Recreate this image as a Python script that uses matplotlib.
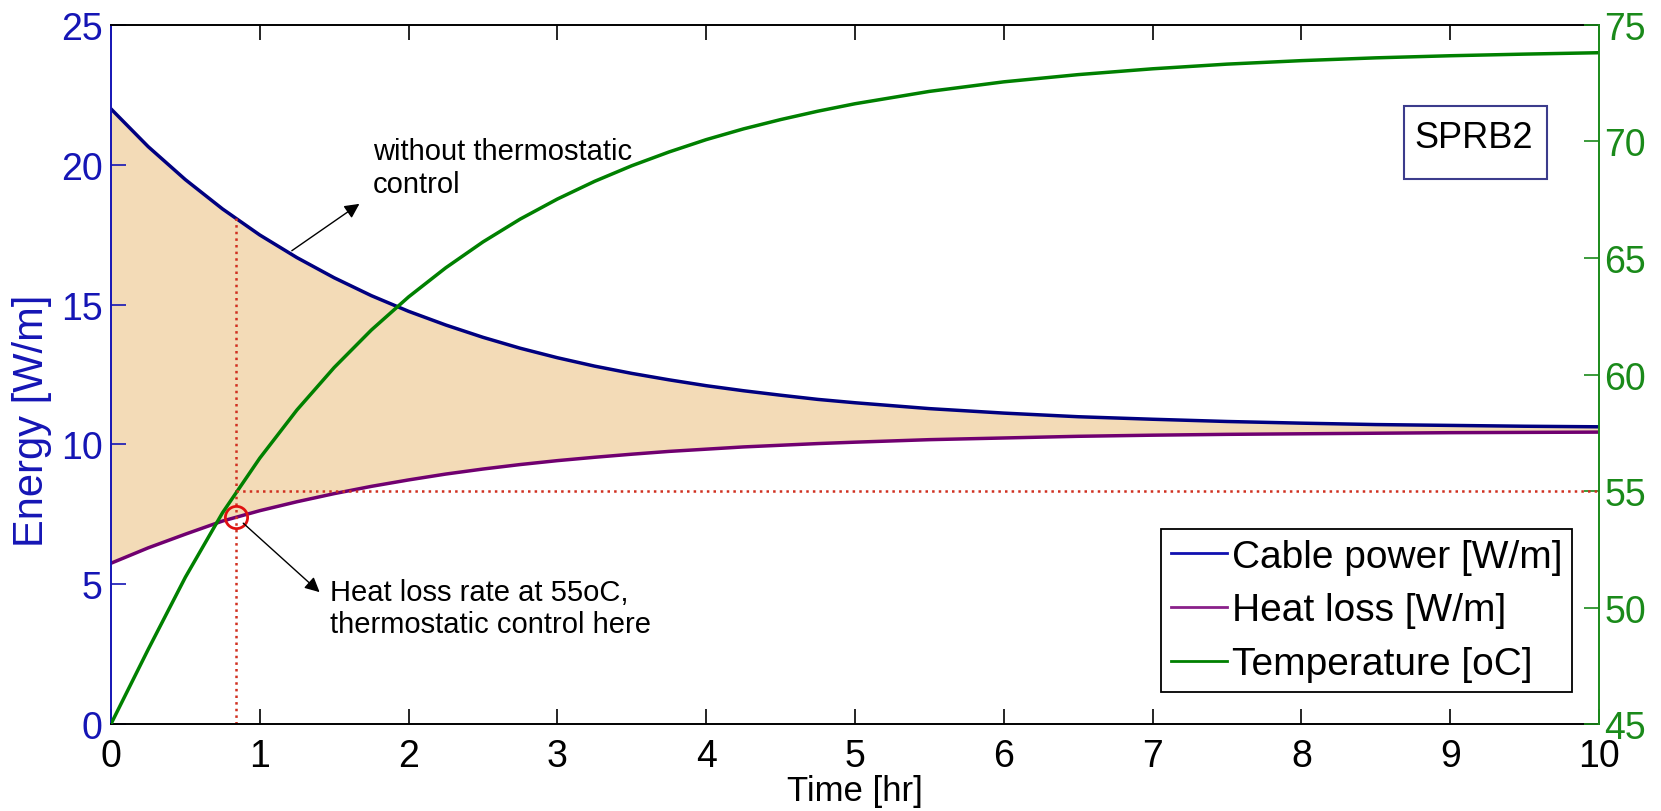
import numpy as np
import matplotlib
matplotlib.use('Agg')
import matplotlib.pyplot as plt
from matplotlib.lines import Line2D
from matplotlib.patches import Rectangle

plt.rcParams['font.family'] = ['Liberation Sans', 'DejaVu Sans']

# heating run of the SPRB2 cable
time_hr = [0, 0.25, 0.5, 0.75, 1, 1.25, 1.5, 1.75, 2, 2.25, 2.5, 2.75, 3, 3.25, 3.5, 3.75,
           4, 4.25, 4.5, 4.75, 5, 5.5, 6, 6.5, 7, 7.5, 8, 8.5, 9, 9.5, 10]
cable_power = [22.00, 20.65, 19.47, 18.42, 17.49, 16.68, 15.96, 15.32, 14.76, 14.27, 13.83,
               13.44, 13.10, 12.80, 12.54, 12.31, 12.10, 11.92, 11.76, 11.61, 11.49, 11.28,
               11.12, 10.99, 10.90, 10.82, 10.76, 10.71, 10.68, 10.65, 10.63]
heat_loss = [5.75, 6.30, 6.79, 7.26, 7.63, 7.95, 8.24, 8.50, 8.73, 8.94, 9.12, 9.28, 9.42,
             9.54, 9.65, 9.75, 9.83, 9.91, 9.97, 10.03, 10.08, 10.17, 10.23, 10.29, 10.33,
             10.36, 10.38, 10.40, 10.42, 10.43, 10.44]
temperature = [45.0, 48.2, 51.3, 54.07, 56.41, 58.48, 60.30, 61.91, 63.33, 64.58, 65.69,
               66.67, 67.53, 68.29, 68.96, 69.55, 70.08, 70.54, 70.94, 71.30, 71.62, 72.15,
               72.56, 72.87, 73.12, 73.32, 73.47, 73.59, 73.68, 73.75, 73.81]

t_set = 0.84      # time the cable reaches the thermostat set point
temp_set = 55

labels = ['Cable power [W/m]', 'Heat loss [W/m]', 'Temperature [oC]']

blue = '#000080'
purple = '#700070'
green = '#008000'
tick_blue = '#1515B5'
tick_green = '#1A8A1A'
dot_red = '#D03020'

loss_at_set = np.interp(t_set, time_hr, heat_loss)
power_at_set = np.interp(t_set, time_hr, cable_power)

fig = plt.figure(figsize=(16.61, 8.12), dpi=100)
ax1 = fig.add_axes([0.0668, 0.1071, 0.8959, 0.8609])

ax1.fill_between(time_hr, heat_loss, cable_power, color='#F3DBB7', lw=0)
ax1.plot(time_hr, cable_power, color=blue, lw=2.5)
ax1.plot(time_hr, heat_loss, color=purple, lw=2.5)
ax1.plot([t_set, t_set], [0, power_at_set], color=dot_red, ls=':', lw=1.8)
ax1.plot(t_set, loss_at_set, 'o', mfc='none', mec='#E01010', ms=16, mew=2)

ax1.set_xlim(0, 10)
ax1.set_ylim(0, 25)
ax1.set_xticks(range(0, 11))
ax1.set_yticks(range(0, 26, 5))
ax1.tick_params(axis='y', colors=tick_blue, direction='in', length=11, width=1.2,
                right=True, labelsize=27, pad=6)
ax1.tick_params(axis='x', colors='black', direction='in', length=11, width=1.2,
                top=True, labelsize=27, pad=10)
ax1.spines['left'].set_color(tick_blue)
ax1.spines['right'].set_visible(False)
for s in ['top', 'bottom']:
    ax1.spines[s].set_color('black')
    ax1.spines[s].set_linewidth(1.4)
ax1.spines['left'].set_linewidth(1.4)

ax1.set_xlabel('Time [hr]', fontsize=25, labelpad=0)
ax1.set_ylabel('Energy [W/m]', fontsize=30, color=tick_blue)
ax1.yaxis.set_label_coords(-0.0397, 0.435)

# annotations
ax1.annotate('', xy=(1.685, 18.66), xytext=(1.20, 16.87),
             arrowprops=dict(arrowstyle='-|>', color='black', lw=1, mutation_scale=22))
ax1.text(1.76, 19.9, 'without thermostatic\ncontrol', fontsize=21, va='center', ha='left')
ax1.annotate('', xy=(1.416, 4.65), xytext=(0.875, 7.25),
             arrowprops=dict(arrowstyle='-|>', color='black', lw=1, mutation_scale=22))
ax1.text(1.47, 4.15, 'Heat loss rate at 55oC,\nthermostatic control here', fontsize=21,
         va='center', ha='left')

# temperature on the right axis
ax2 = ax1.twinx()
ax2.plot(time_hr, temperature, color=green, lw=2.5)
ax2.plot([t_set, 10], [temp_set, temp_set], color=dot_red, ls=':', lw=1.8)
ax2.set_ylim(45, 75)
ax2.set_yticks(range(45, 76, 5))
ax2.tick_params(axis='y', colors=tick_green, direction='in', length=11, width=1.2,
                labelsize=27, pad=4)
ax2.spines['right'].set_color(tick_green)
ax2.spines['right'].set_linewidth(1.4)
for s in ['left', 'top', 'bottom']:
    ax2.spines[s].set_visible(False)

ax2.add_patch(Rectangle((0.869, 0.7797), 0.0961, 0.1044, transform=ax2.transAxes,
                        fill=False, ec='#3C3C8C', lw=1.5))
ax2.text(0.916, 0.8255, 'SPRB2', transform=ax2.transAxes, fontsize=26,
         ha='center', va='baseline')

handles = [Line2D([], [], color='#1010B0', lw=2),
           Line2D([], [], color='#8A208A', lw=2),
           Line2D([], [], color=green, lw=2)]
leg = ax2.legend(handles, labels, loc='lower right', bbox_to_anchor=(0.982, 0.0458),
                 fontsize=28, frameon=True, fancybox=False, edgecolor='black',
                 handlelength=1.45, handletextpad=0.12, borderpad=0.25,
                 labelspacing=0.46, borderaxespad=0, framealpha=1)
leg.get_frame().set_linewidth(1.3)

fig.savefig('out.png', dpi=100)
